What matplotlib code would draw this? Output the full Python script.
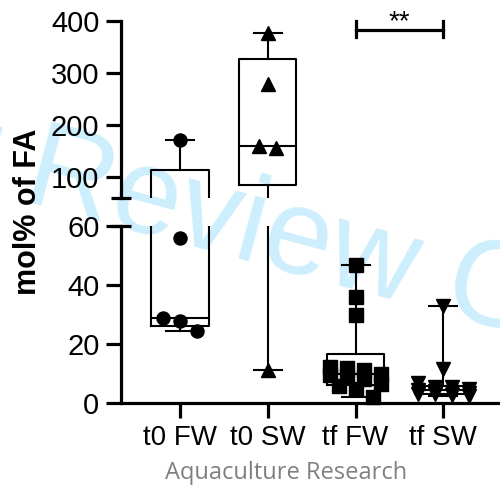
import numpy as np
import matplotlib.pyplot as plt

# values (mol% of FA)
categories = ['t0 FW', 't0 SW', 'tf FW', 'tf SW']
t0_fw = [28.9, 27.7, 24.4, 56.0, 170.0]
t0_sw = [160.0, 156.0, 278.0, 376.0, 11.0]
tf_fw = [46.8, 36.0, 29.8, 12.0, 11.8, 11.0, 9.9, 9.5, 9.0, 8.0, 6.2, 5.5, 4.5, 2.1]
tf_sw = [33.0, 11.5, 6.7, 5.4, 5.2, 4.8, 4.3, 4.0, 3.8, 3.4, 3.0, 2.8, 2.5, 2.2]
groups = [t0_fw, t0_sw, tf_fw, tf_sw]
markers = ['o', '^', 's', 'v']

top_ticks = [100, 200, 300, 400]
bottom_ticks = [0, 20, 40, 60]
y_break = 60
sig_pair = (2, 3)
sig_y = 383
sig_text = '**'

plt.rcParams['font.family'] = ['Liberation Sans', 'DejaVu Sans']

fig = plt.figure(figsize=(5, 4.88), dpi=100)
ax_top = fig.add_axes([0.2414, 0.5949, 0.7586, 0.3627])
ax_bot = fig.add_axes([0.2414, 0.1748, 0.7586, 0.3621])

lw = 2.3
for ax in (ax_top, ax_bot):
    ax.set_xlim(-0.675, 3.645)
    ax.patch.set_visible(False)
    ax.spines['top'].set_visible(False)
    ax.spines['right'].set_visible(False)
    ax.spines['left'].set_linewidth(lw)
    ax.tick_params(axis='y', length=10.8, width=lw, labelsize=21, pad=4.5)
ax_top.spines['bottom'].set_visible(False)
ax_top.set_ylim(y_break, 400)
ax_bot.set_ylim(0, y_break)
ax_bot.spines['bottom'].set_linewidth(lw)


# GraphPad style box: quartiles by (n+1)p, whiskers min to max
def box_stats(vals):
    q1, med, q3 = np.percentile(vals, [25, 50, 75], method='weibull')
    return dict(med=med, q1=q1, q3=q3, whislo=min(vals), whishi=max(vals), fliers=[])


stats = [box_stats(g) for g in groups]
line = dict(color='black', linewidth=1.5)
for ax in (ax_top, ax_bot):
    ax.bxp(stats, positions=range(len(groups)), widths=0.65, capwidths=0.32,
           showfliers=False, manage_ticks=False, boxprops=line,
           whiskerprops=line, capprops=line, medianprops=line)

ax_top.set_xticks([])
ax_top.set_yticks(top_ticks)
ax_bot.set_yticks(bottom_ticks)
ax_bot.set_xticks(range(len(categories)), categories)
ax_bot.tick_params(axis='x', length=10.8, width=lw, labelsize=20, pad=5)

# axis break caps
for ax in (ax_top, ax_bot):
    ax.plot([0], [y_break], marker='_', markersize=13.7, mew=lw, color='black',
            transform=ax.get_yaxis_transform(), clip_on=False)


def axis_for(v):
    return ax_top if v >= y_break else ax_bot


def pix_y(v):
    return axis_for(v).transData.transform((0, v))[1]


px_per_x = ax_bot.transData.transform((1, 0))[0] - ax_bot.transData.transform((0, 0))[0]


# points that sit close in y share a row and are spread symmetrically
def row_offsets(vals, step=17, size=14, cap=4):
    py = [pix_y(v) for v in vals]
    order = sorted(range(len(vals)), key=lambda k: -py[k])
    rows, cur = [], []
    for k in order:
        if cur and (len(cur) == cap or abs(py[cur[0]] - py[k]) >= size):
            rows.append(cur)
            cur = []
        cur.append(k)
    rows.append(cur)
    offs = [0.0] * len(vals)
    for r in rows:
        r = sorted(r)
        for j, k in enumerate(r):
            offs[k] = (j - (len(r) - 1) / 2) * step / px_per_x
    return offs


for i, (vals, m) in enumerate(zip(groups, markers)):
    offs = row_offsets(vals)
    for v, o in zip(vals, offs):
        axis_for(v).plot(i + o, v, marker=m, markersize=9.4, color='black',
                         linestyle='none', clip_on=False, zorder=3)

# significance bracket
x1, x2 = sig_pair
ax_top.plot([x1, x2], [sig_y, sig_y], color='black', lw=lw, clip_on=False)
ax_top.plot([x1, x1], [368, 399], color='black', lw=lw, clip_on=False)
ax_top.plot([x2, x2], [368, 399], color='black', lw=lw, clip_on=False)
ax_top.text((x1 + x2) / 2, sig_y, sig_text, ha='center', va='baseline',
            fontsize=20, clip_on=False)

fig.text(28 / 500, 1 - 211.5 / 488, 'mol% of FA', rotation=90, ha='center',
         va='center', fontsize=22, fontweight='bold')
fig.text(286 / 500, 1 - 473 / 488, 'Aquaculture Research', ha='center',
         va='center', color='#808080', fontsize=17, family='Open Sans')
fig.text(0.493, 0.466, 'For Review Only', rotation=-15, rotation_mode='anchor',
         ha='center', va='baseline', fontsize=88, color='#cdeefc', zorder=-1)

fig.savefig('out.png', dpi=100)
